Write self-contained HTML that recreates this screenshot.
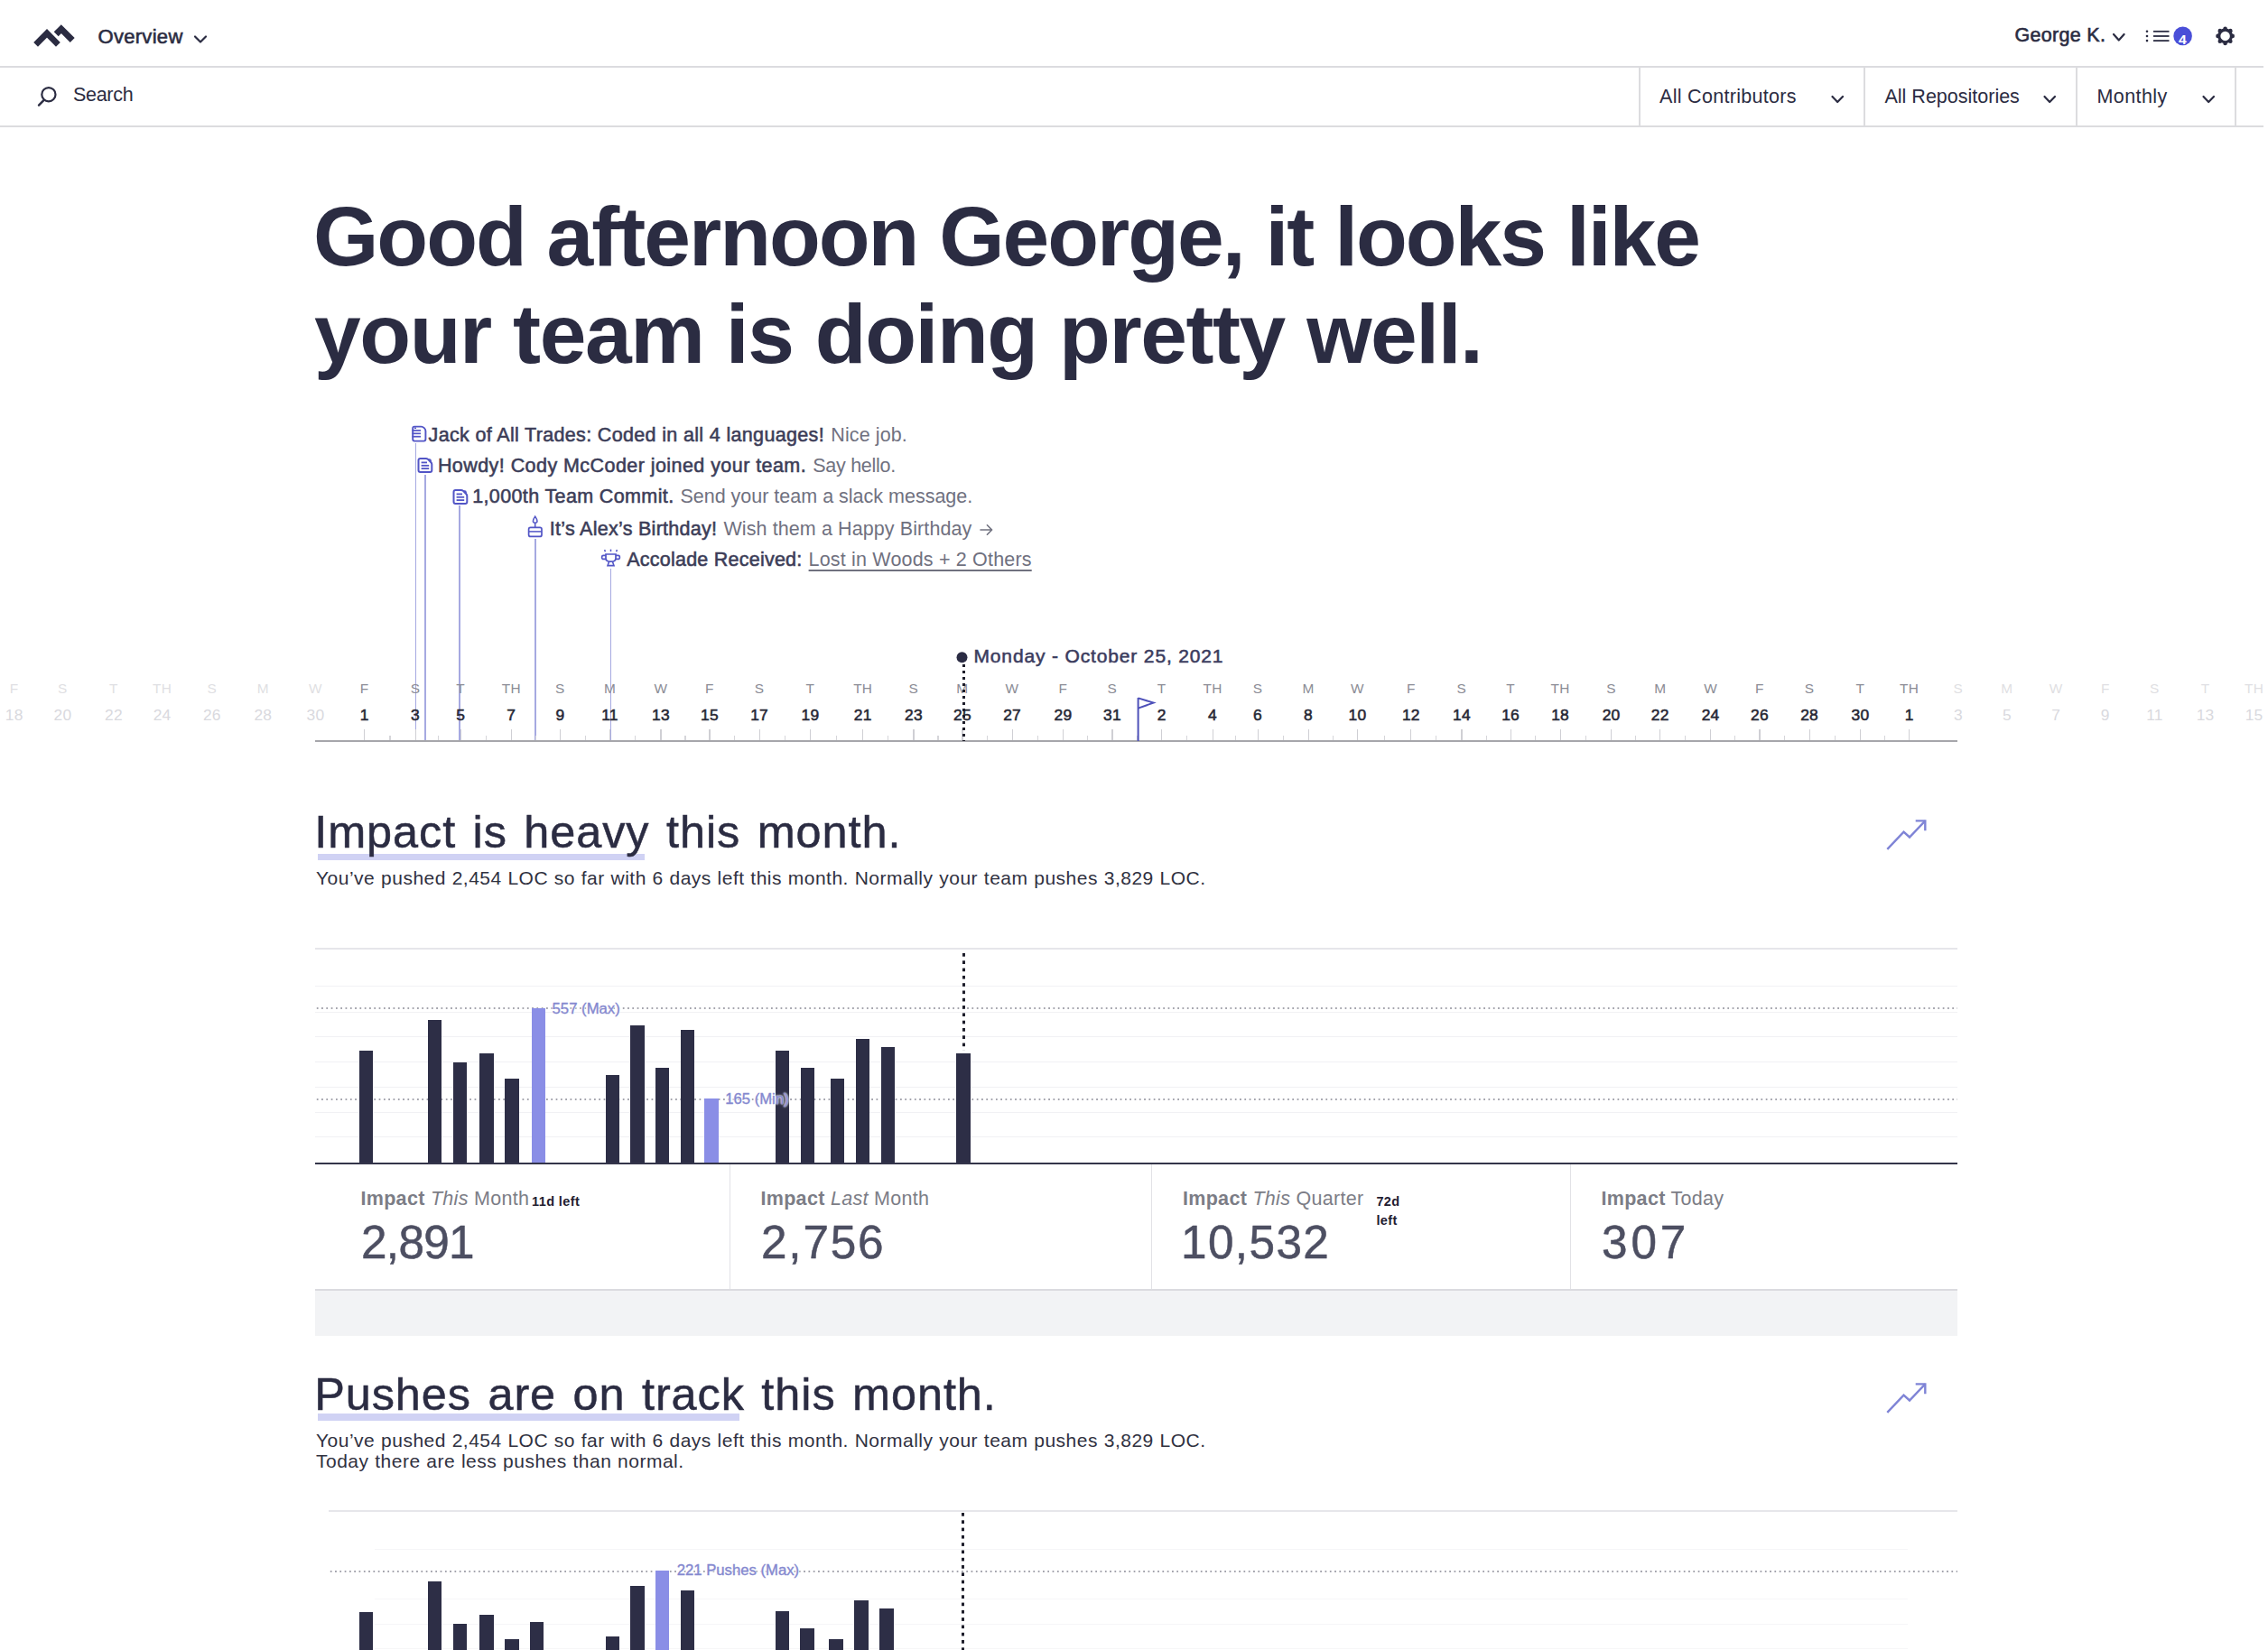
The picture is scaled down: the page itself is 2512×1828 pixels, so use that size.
<!DOCTYPE html><html><head><meta charset="utf-8"><style>
html,body{margin:0;padding:0;background:#fff;}
body{width:2512px;height:1828px;overflow:hidden;position:relative;font-family:"Liberation Sans", sans-serif;}
.t{position:absolute;white-space:pre;}
.r{position:absolute;display:block;}
</style></head><body>
<svg class="r" style="left:30px;top:18px;" width="60" height="40" viewBox="0 0 60 40"><path d="M9.6,31.3 L22,18.9 L34.4,31.3" fill="none" stroke="#2b2c42" stroke-width="6.8"/><path d="M32.2,19.7 L37.8,14.1 L50.2,26.5" fill="none" stroke="#2b2c42" stroke-width="7"/></svg>
<div class="t" style="left:108.5px;top:30.3px;font-size:22px;line-height:22px;color:#2b2c42;font-weight:400;letter-spacing:0.3px;-webkit-text-stroke:0.6px #2b2c42;">Overview</div>
<svg class="r" style="left:213px;top:37px;" width="19" height="13" viewBox="0 0 19 13"><polyline points="3.0,3.5 9.0,9.5 15.0,3.5" fill="none" stroke="#2b2c42" stroke-width="2.2" stroke-linecap="round" stroke-linejoin="round"/></svg>
<div class="r" style="left:0.0px;top:73.0px;width:2507.0px;height:2.0px;background:#dcdcdf;"></div>
<div class="t" style="left:2231.5px;top:28.9px;font-size:21.5px;line-height:21.5px;color:#2b2c42;font-weight:400;letter-spacing:0.3px;-webkit-text-stroke:0.6px #2b2c42;">George K.</div>
<svg class="r" style="left:2338px;top:35px;" width="18" height="13" viewBox="0 0 18 13"><polyline points="3.0,3.0 8.8,9.5 14.6,3.0" fill="none" stroke="#2b2c42" stroke-width="2.2" stroke-linecap="round" stroke-linejoin="round"/></svg>
<svg class="r" style="left:2372px;top:28px;" width="36" height="24" viewBox="0 0 36 24"><circle cx="6" cy="6.8" r="1.3" fill="#2b2c42"/><line x1="13" y1="6.8" x2="30.5" y2="6.8" stroke="#2b2c42" stroke-width="1.8"/><circle cx="6" cy="12" r="1.3" fill="#2b2c42"/><line x1="13" y1="12" x2="30.5" y2="12" stroke="#2b2c42" stroke-width="1.8"/><circle cx="6" cy="17.1" r="1.3" fill="#2b2c42"/><line x1="13" y1="17.1" x2="30.5" y2="17.1" stroke="#2b2c42" stroke-width="1.8"/></svg>
<svg class="r" style="left:2405px;top:27px;" width="26" height="26" viewBox="0 0 26 26"><circle cx="12.6" cy="12.9" r="10.3" fill="#4a4fd8"/><text x="12.4" y="21.6" text-anchor="middle" font-family="Liberation Sans" font-weight="700" font-size="14" fill="#fff" transform="translate(12.4,0) scale(1.12,1) translate(-12.4,0)">4</text></svg>
<svg class="r" style="left:2450px;top:25px;" width="30" height="30" viewBox="0 0 30 30"><g transform="translate(14.6,14.9)"><circle cx="0.00" cy="-8.10" r="2.3" fill="#2b2c42"/><circle cx="5.73" cy="-5.73" r="2.3" fill="#2b2c42"/><circle cx="8.10" cy="-0.00" r="2.3" fill="#2b2c42"/><circle cx="5.73" cy="5.73" r="2.3" fill="#2b2c42"/><circle cx="0.00" cy="8.10" r="2.3" fill="#2b2c42"/><circle cx="-5.73" cy="5.73" r="2.3" fill="#2b2c42"/><circle cx="-8.10" cy="0.00" r="2.3" fill="#2b2c42"/><circle cx="-5.73" cy="-5.73" r="2.3" fill="#2b2c42"/><circle r="6.8" fill="none" stroke="#2b2c42" stroke-width="3.1"/></g></svg>
<svg class="r" style="left:38px;top:90px;" width="28" height="30" viewBox="0 0 28 30"><circle cx="15.9" cy="14.7" r="7.6" fill="none" stroke="#2b2c42" stroke-width="2.2"/><line x1="5" y1="26.6" x2="10.4" y2="21.2" stroke="#2b2c42" stroke-width="2.4" stroke-linecap="round"/></svg>
<div class="t" style="left:81.0px;top:95.0px;font-size:21.5px;line-height:21.5px;color:#2b2c42;font-weight:400;letter-spacing:-0.3px;">Search</div>
<div class="r" style="left:0.0px;top:139.0px;width:2507.0px;height:2.0px;background:#dcdcdf;"></div>
<div class="r" style="left:1815.0px;top:75.0px;width:2.0px;height:64.0px;background:#dcdcdf;"></div>
<div class="r" style="left:2064.3px;top:75.0px;width:2.0px;height:64.0px;background:#dcdcdf;"></div>
<div class="r" style="left:2298.8px;top:75.0px;width:2.0px;height:64.0px;background:#dcdcdf;"></div>
<div class="r" style="left:2475.0px;top:75.0px;width:2.0px;height:64.0px;background:#dcdcdf;"></div>
<div class="t" style="left:1838.0px;top:96.9px;font-size:21.5px;line-height:21.5px;color:#2b2c42;font-weight:400;letter-spacing:0.3px;">All Contributors</div>
<svg class="r" style="left:2026px;top:104px;" width="18" height="13" viewBox="0 0 18 13"><polyline points="3.5,3.0 9.2,9.0 15.0,3.0" fill="none" stroke="#2b2c42" stroke-width="2.2" stroke-linecap="round" stroke-linejoin="round"/></svg>
<div class="t" style="left:2087.5px;top:96.9px;font-size:21.5px;line-height:21.5px;color:#2b2c42;font-weight:400;letter-spacing:0px;">All Repositories</div>
<svg class="r" style="left:2261px;top:104px;" width="18" height="13" viewBox="0 0 18 13"><polyline points="3.5,3.0 9.2,9.0 15.0,3.0" fill="none" stroke="#2b2c42" stroke-width="2.2" stroke-linecap="round" stroke-linejoin="round"/></svg>
<div class="t" style="left:2322.5px;top:96.9px;font-size:21.5px;line-height:21.5px;color:#2b2c42;font-weight:400;letter-spacing:0.4px;">Monthly</div>
<svg class="r" style="left:2437px;top:104px;" width="18" height="13" viewBox="0 0 18 13"><polyline points="3.5,3.0 9.2,9.0 15.0,3.0" fill="none" stroke="#2b2c42" stroke-width="2.2" stroke-linecap="round" stroke-linejoin="round"/></svg>
<div class="t" style="left:347.0px;top:216.4px;font-size:93px;line-height:93px;color:#2b2c42;font-weight:700;letter-spacing:-2.0px;">Good afternoon George, it looks like</div>
<div class="t" style="left:348.0px;top:323.9px;font-size:93px;line-height:93px;color:#2b2c42;font-weight:700;letter-spacing:-1.45px;">your team is doing pretty well.</div>
<div class="t" style="left:474.6px;top:471.5px;font-size:21.5px;line-height:21.5px;letter-spacing:0.34px;color:#3c3d58;font-weight:400;-webkit-text-stroke:0.55px #3c3d58">Jack of All Trades: Coded in all 4 languages!</div>
<div class="t" style="left:920.3px;top:471.5px;font-size:21.5px;line-height:21.5px;letter-spacing:0.1px;color:#70717f;">Nice job.</div>
<div class="t" style="left:484.9px;top:505.5px;font-size:21.5px;line-height:21.5px;letter-spacing:0.44px;color:#3c3d58;font-weight:400;-webkit-text-stroke:0.55px #3c3d58">Howdy! Cody McCoder joined your team.</div>
<div class="t" style="left:900.2px;top:505.5px;font-size:21.5px;line-height:21.5px;letter-spacing:-0.27px;color:#70717f;">Say hello.</div>
<div class="t" style="left:523.2px;top:540.1px;font-size:21.5px;line-height:21.5px;letter-spacing:0.37px;color:#3c3d58;font-weight:400;-webkit-text-stroke:0.55px #3c3d58">1,000th Team Commit.</div>
<div class="t" style="left:753.4px;top:540.1px;font-size:21.5px;line-height:21.5px;letter-spacing:0.0px;color:#70717f;">Send your team a slack message.</div>
<div class="t" style="left:608.8px;top:575.5px;font-size:21.5px;line-height:21.5px;letter-spacing:0.28px;color:#3c3d58;font-weight:400;-webkit-text-stroke:0.55px #3c3d58">It’s Alex’s Birthday!</div>
<div class="t" style="left:801.4px;top:575.5px;font-size:21.5px;line-height:21.5px;letter-spacing:0.1px;color:#70717f;">Wish them a Happy Birthday</div>
<div class="t" style="left:694.2px;top:610.3px;font-size:21.5px;line-height:21.5px;letter-spacing:0.24px;color:#3c3d58;font-weight:400;-webkit-text-stroke:0.55px #3c3d58">Accolade Received:</div>
<div class="t" style="left:895.6px;top:610.3px;font-size:21.5px;line-height:21.5px;letter-spacing:0.18px;color:#70717f;text-decoration:underline;text-decoration-thickness:1.6px;text-underline-offset:4px;">Lost in Woods + 2 Others</div>
<svg class="r" style="left:455px;top:471px;" width="19" height="20" viewBox="0 0 19 20"><path d="M2.2,3.4 Q2.2,1.6 4,1.6 L11.4,1.6 Q13.2,1.6 14.8,3.2 Q16.4,4.8 16.4,6.6 L16.4,15.6 Q16.4,17.6 14.4,17.6 L4,17.6 Q2.2,17.6 2.2,15.6 Z" fill="none" stroke="#5255c6" stroke-width="1.9"/><line x1="4" y1="3.2" x2="6" y2="3.2" stroke="#5255c6" stroke-width="1.4"/><line x1="1.4" y1="5.9" x2="11" y2="5.9" stroke="#5255c6" stroke-width="1.7"/><line x1="1.4" y1="9.3" x2="11" y2="9.3" stroke="#5255c6" stroke-width="1.7"/><line x1="1.4" y1="12.7" x2="11" y2="12.7" stroke="#5255c6" stroke-width="1.7"/></svg>
<svg class="r" style="left:462px;top:506px;" width="19" height="20" viewBox="0 0 19 20"><path d="M3.5,1.9 L9.8,1.9 Q11,1.9 12,2.9 L15.3,6.2 Q16.3,7.2 16.3,8.4 L16.3,15.1 Q16.3,17.1 14.3,17.1 L3.5,17.1 Q1.5,17.1 1.5,15.1 L1.5,3.9 Q1.5,1.9 3.5,1.9 Z" fill="none" stroke="#5255c6" stroke-width="2" stroke-linejoin="round"/><path d="M11,2.2 L15.8,7 L15.8,4.2 Q15.8,2.2 13.8,2.2 Z" fill="#5255c6"/><line x1="4.6" y1="6.4" x2="11" y2="6.4" stroke="#5255c6" stroke-width="1.8"/><line x1="4.6" y1="9.8" x2="13.2" y2="9.8" stroke="#5255c6" stroke-width="1.8"/><line x1="4.6" y1="13.1" x2="13.2" y2="13.1" stroke="#5255c6" stroke-width="1.8"/></svg>
<svg class="r" style="left:501px;top:541px;" width="19" height="20" viewBox="0 0 19 20"><path d="M3.5,1.9 L9.8,1.9 Q11,1.9 12,2.9 L15.3,6.2 Q16.3,7.2 16.3,8.4 L16.3,15.1 Q16.3,17.1 14.3,17.1 L3.5,17.1 Q1.5,17.1 1.5,15.1 L1.5,3.9 Q1.5,1.9 3.5,1.9 Z" fill="none" stroke="#5255c6" stroke-width="2" stroke-linejoin="round"/><path d="M11,2.2 L15.8,7 L15.8,4.2 Q15.8,2.2 13.8,2.2 Z" fill="#5255c6"/><line x1="4.6" y1="6.4" x2="11" y2="6.4" stroke="#5255c6" stroke-width="1.8"/><line x1="4.6" y1="9.8" x2="13.2" y2="9.8" stroke="#5255c6" stroke-width="1.8"/><line x1="4.6" y1="13.1" x2="13.2" y2="13.1" stroke="#5255c6" stroke-width="1.8"/></svg>
<svg class="r" style="left:582px;top:570px;" width="22" height="27" viewBox="0 0 22 27"><path d="M10.7,2.2 Q8.4,5.6 8.4,7.2 Q8.4,9.2 10.7,9.2 Q13,9.2 13,7.2 Q13,5.6 10.7,2.2 Z" fill="none" stroke="#5255c6" stroke-width="1.5"/><line x1="10.7" y1="9.2" x2="10.7" y2="14" stroke="#5255c6" stroke-width="1.6"/><rect x="3.6" y="14.4" width="14.4" height="10" rx="2" fill="none" stroke="#5255c6" stroke-width="1.7"/><line x1="3.6" y1="18.9" x2="18" y2="18.9" stroke="#5255c6" stroke-width="1.5"/></svg>
<svg class="r" style="left:664px;top:606px;" width="25" height="24" viewBox="0 0 25 24"><line x1="5.6" y1="3" x2="6.4" y2="5.2" stroke="#5255c6" stroke-width="1.5"/><line x1="12.5" y1="2.6" x2="12.5" y2="5" stroke="#5255c6" stroke-width="1.5"/><line x1="19.4" y1="3" x2="18.6" y2="5.2" stroke="#5255c6" stroke-width="1.5"/><path d="M7,8 L18,8 L18,12.5 Q18,16.2 12.5,16.2 Q7,16.2 7,12.5 Z" fill="none" stroke="#5255c6" stroke-width="1.7"/><path d="M7,9.4 L4.4,9.4 Q2.6,9.4 2.6,11.4 Q2.6,13.4 4.4,13.4 L7.2,13.4" fill="none" stroke="#5255c6" stroke-width="1.6"/><path d="M18,9.4 L20.6,9.4 Q22.4,9.4 22.4,11.4 Q22.4,13.4 20.6,13.4 L17.8,13.4" fill="none" stroke="#5255c6" stroke-width="1.6"/><path d="M10.6,16.2 L9,20.6 L16,20.6 L14.4,16.2" fill="none" stroke="#5255c6" stroke-width="1.6"/></svg>
<div class="r" style="left:459.9px;top:491.0px;width:1.6px;height:330.0px;background:#a6a9e1;"></div>
<div class="r" style="left:470.0px;top:525.5px;width:1.6px;height:295.5px;background:#a6a9e1;"></div>
<div class="r" style="left:508.3px;top:560.0px;width:1.6px;height:261.0px;background:#a6a9e1;"></div>
<div class="r" style="left:592.1px;top:596.5px;width:1.6px;height:224.5px;background:#a6a9e1;"></div>
<div class="r" style="left:675.7px;top:630.0px;width:1.6px;height:191.0px;background:#a6a9e1;"></div>
<div class="t" style="left:-84.3px;width:200px;text-align:center;top:754.8px;font-size:15.4px;line-height:15.4px;color:#dfdfe3;font-weight:400;letter-spacing:0.3px;">F</div>
<div class="t" style="left:-84.3px;width:200px;text-align:center;top:783.5px;font-size:17.4px;line-height:17.4px;color:#d9d9de;font-weight:400;letter-spacing:0.2px;">18</div>
<div class="t" style="left:-30.6px;width:200px;text-align:center;top:754.8px;font-size:15.4px;line-height:15.4px;color:#dfdfe3;font-weight:400;letter-spacing:0.3px;">S</div>
<div class="t" style="left:-30.6px;width:200px;text-align:center;top:783.5px;font-size:17.4px;line-height:17.4px;color:#d9d9de;font-weight:400;letter-spacing:0.2px;">20</div>
<div class="t" style="left:25.9px;width:200px;text-align:center;top:754.8px;font-size:15.4px;line-height:15.4px;color:#dfdfe3;font-weight:400;letter-spacing:0.3px;">T</div>
<div class="t" style="left:25.9px;width:200px;text-align:center;top:783.5px;font-size:17.4px;line-height:17.4px;color:#d9d9de;font-weight:400;letter-spacing:0.2px;">22</div>
<div class="t" style="left:79.6px;width:200px;text-align:center;top:754.8px;font-size:15.4px;line-height:15.4px;color:#dfdfe3;font-weight:400;letter-spacing:0.3px;">TH</div>
<div class="t" style="left:79.6px;width:200px;text-align:center;top:783.5px;font-size:17.4px;line-height:17.4px;color:#d9d9de;font-weight:400;letter-spacing:0.2px;">24</div>
<div class="t" style="left:134.8px;width:200px;text-align:center;top:754.8px;font-size:15.4px;line-height:15.4px;color:#dfdfe3;font-weight:400;letter-spacing:0.3px;">S</div>
<div class="t" style="left:134.8px;width:200px;text-align:center;top:783.5px;font-size:17.4px;line-height:17.4px;color:#d9d9de;font-weight:400;letter-spacing:0.2px;">26</div>
<div class="t" style="left:191.3px;width:200px;text-align:center;top:754.8px;font-size:15.4px;line-height:15.4px;color:#dfdfe3;font-weight:400;letter-spacing:0.3px;">M</div>
<div class="t" style="left:191.3px;width:200px;text-align:center;top:783.5px;font-size:17.4px;line-height:17.4px;color:#d9d9de;font-weight:400;letter-spacing:0.2px;">28</div>
<div class="t" style="left:249.4px;width:200px;text-align:center;top:754.8px;font-size:15.4px;line-height:15.4px;color:#dfdfe3;font-weight:400;letter-spacing:0.3px;">W</div>
<div class="t" style="left:249.4px;width:200px;text-align:center;top:783.5px;font-size:17.4px;line-height:17.4px;color:#d9d9de;font-weight:400;letter-spacing:0.2px;">30</div>
<div class="t" style="left:303.7px;width:200px;text-align:center;top:754.8px;font-size:15.4px;line-height:15.4px;color:#8b8c95;font-weight:400;letter-spacing:0.3px;">F</div>
<div class="t" style="left:303.7px;width:200px;text-align:center;top:783.5px;font-size:17.4px;line-height:17.4px;color:#272835;font-weight:400;letter-spacing:0.2px;-webkit-text-stroke:0.55px #272835;">1</div>
<div class="t" style="left:360.0px;width:200px;text-align:center;top:754.8px;font-size:15.4px;line-height:15.4px;color:#8b8c95;font-weight:400;letter-spacing:0.3px;">S</div>
<div class="t" style="left:360.0px;width:200px;text-align:center;top:783.5px;font-size:17.4px;line-height:17.4px;color:#272835;font-weight:400;letter-spacing:0.2px;-webkit-text-stroke:0.55px #272835;">3</div>
<div class="t" style="left:410.2px;width:200px;text-align:center;top:754.8px;font-size:15.4px;line-height:15.4px;color:#8b8c95;font-weight:400;letter-spacing:0.3px;">T</div>
<div class="t" style="left:410.2px;width:200px;text-align:center;top:783.5px;font-size:17.4px;line-height:17.4px;color:#272835;font-weight:400;letter-spacing:0.2px;-webkit-text-stroke:0.55px #272835;">5</div>
<div class="t" style="left:466.3px;width:200px;text-align:center;top:754.8px;font-size:15.4px;line-height:15.4px;color:#8b8c95;font-weight:400;letter-spacing:0.3px;">TH</div>
<div class="t" style="left:466.3px;width:200px;text-align:center;top:783.5px;font-size:17.4px;line-height:17.4px;color:#272835;font-weight:400;letter-spacing:0.2px;-webkit-text-stroke:0.55px #272835;">7</div>
<div class="t" style="left:520.4px;width:200px;text-align:center;top:754.8px;font-size:15.4px;line-height:15.4px;color:#8b8c95;font-weight:400;letter-spacing:0.3px;">S</div>
<div class="t" style="left:520.4px;width:200px;text-align:center;top:783.5px;font-size:17.4px;line-height:17.4px;color:#272835;font-weight:400;letter-spacing:0.2px;-webkit-text-stroke:0.55px #272835;">9</div>
<div class="t" style="left:575.5px;width:200px;text-align:center;top:754.8px;font-size:15.4px;line-height:15.4px;color:#8b8c95;font-weight:400;letter-spacing:0.3px;">M</div>
<div class="t" style="left:575.5px;width:200px;text-align:center;top:783.5px;font-size:17.4px;line-height:17.4px;color:#272835;font-weight:400;letter-spacing:0.2px;-webkit-text-stroke:0.55px #272835;">11</div>
<div class="t" style="left:631.9px;width:200px;text-align:center;top:754.8px;font-size:15.4px;line-height:15.4px;color:#8b8c95;font-weight:400;letter-spacing:0.3px;">W</div>
<div class="t" style="left:631.9px;width:200px;text-align:center;top:783.5px;font-size:17.4px;line-height:17.4px;color:#272835;font-weight:400;letter-spacing:0.2px;-webkit-text-stroke:0.55px #272835;">13</div>
<div class="t" style="left:685.9px;width:200px;text-align:center;top:754.8px;font-size:15.4px;line-height:15.4px;color:#8b8c95;font-weight:400;letter-spacing:0.3px;">F</div>
<div class="t" style="left:685.9px;width:200px;text-align:center;top:783.5px;font-size:17.4px;line-height:17.4px;color:#272835;font-weight:400;letter-spacing:0.2px;-webkit-text-stroke:0.55px #272835;">15</div>
<div class="t" style="left:741.1px;width:200px;text-align:center;top:754.8px;font-size:15.4px;line-height:15.4px;color:#8b8c95;font-weight:400;letter-spacing:0.3px;">S</div>
<div class="t" style="left:741.1px;width:200px;text-align:center;top:783.5px;font-size:17.4px;line-height:17.4px;color:#272835;font-weight:400;letter-spacing:0.2px;-webkit-text-stroke:0.55px #272835;">17</div>
<div class="t" style="left:797.4px;width:200px;text-align:center;top:754.8px;font-size:15.4px;line-height:15.4px;color:#8b8c95;font-weight:400;letter-spacing:0.3px;">T</div>
<div class="t" style="left:797.4px;width:200px;text-align:center;top:783.5px;font-size:17.4px;line-height:17.4px;color:#272835;font-weight:400;letter-spacing:0.2px;-webkit-text-stroke:0.55px #272835;">19</div>
<div class="t" style="left:855.7px;width:200px;text-align:center;top:754.8px;font-size:15.4px;line-height:15.4px;color:#8b8c95;font-weight:400;letter-spacing:0.3px;">TH</div>
<div class="t" style="left:855.7px;width:200px;text-align:center;top:783.5px;font-size:17.4px;line-height:17.4px;color:#272835;font-weight:400;letter-spacing:0.2px;-webkit-text-stroke:0.55px #272835;">21</div>
<div class="t" style="left:911.9px;width:200px;text-align:center;top:754.8px;font-size:15.4px;line-height:15.4px;color:#8b8c95;font-weight:400;letter-spacing:0.3px;">S</div>
<div class="t" style="left:911.9px;width:200px;text-align:center;top:783.5px;font-size:17.4px;line-height:17.4px;color:#272835;font-weight:400;letter-spacing:0.2px;-webkit-text-stroke:0.55px #272835;">23</div>
<div class="t" style="left:965.9px;width:200px;text-align:center;top:754.8px;font-size:15.4px;line-height:15.4px;color:#8b8c95;font-weight:400;letter-spacing:0.3px;">M</div>
<div class="t" style="left:965.9px;width:200px;text-align:center;top:783.5px;font-size:17.4px;line-height:17.4px;color:#272835;font-weight:400;letter-spacing:0.2px;-webkit-text-stroke:0.55px #272835;">25</div>
<div class="t" style="left:1021.0px;width:200px;text-align:center;top:754.8px;font-size:15.4px;line-height:15.4px;color:#8b8c95;font-weight:400;letter-spacing:0.3px;">W</div>
<div class="t" style="left:1021.0px;width:200px;text-align:center;top:783.5px;font-size:17.4px;line-height:17.4px;color:#272835;font-weight:400;letter-spacing:0.2px;-webkit-text-stroke:0.55px #272835;">27</div>
<div class="t" style="left:1077.4px;width:200px;text-align:center;top:754.8px;font-size:15.4px;line-height:15.4px;color:#8b8c95;font-weight:400;letter-spacing:0.3px;">F</div>
<div class="t" style="left:1077.4px;width:200px;text-align:center;top:783.5px;font-size:17.4px;line-height:17.4px;color:#272835;font-weight:400;letter-spacing:0.2px;-webkit-text-stroke:0.55px #272835;">29</div>
<div class="t" style="left:1131.9px;width:200px;text-align:center;top:754.8px;font-size:15.4px;line-height:15.4px;color:#8b8c95;font-weight:400;letter-spacing:0.3px;">S</div>
<div class="t" style="left:1131.9px;width:200px;text-align:center;top:783.5px;font-size:17.4px;line-height:17.4px;color:#272835;font-weight:400;letter-spacing:0.2px;-webkit-text-stroke:0.55px #272835;">31</div>
<div class="t" style="left:1186.7px;width:200px;text-align:center;top:754.8px;font-size:15.4px;line-height:15.4px;color:#8b8c95;font-weight:400;letter-spacing:0.3px;">T</div>
<div class="t" style="left:1186.7px;width:200px;text-align:center;top:783.5px;font-size:17.4px;line-height:17.4px;color:#272835;font-weight:400;letter-spacing:0.2px;-webkit-text-stroke:0.55px #272835;">2</div>
<div class="t" style="left:1243.0px;width:200px;text-align:center;top:754.8px;font-size:15.4px;line-height:15.4px;color:#8b8c95;font-weight:400;letter-spacing:0.3px;">TH</div>
<div class="t" style="left:1243.0px;width:200px;text-align:center;top:783.5px;font-size:17.4px;line-height:17.4px;color:#272835;font-weight:400;letter-spacing:0.2px;-webkit-text-stroke:0.55px #272835;">4</div>
<div class="t" style="left:1293.0px;width:200px;text-align:center;top:754.8px;font-size:15.4px;line-height:15.4px;color:#8b8c95;font-weight:400;letter-spacing:0.3px;">S</div>
<div class="t" style="left:1293.0px;width:200px;text-align:center;top:783.5px;font-size:17.4px;line-height:17.4px;color:#272835;font-weight:400;letter-spacing:0.2px;-webkit-text-stroke:0.55px #272835;">6</div>
<div class="t" style="left:1349.0px;width:200px;text-align:center;top:754.8px;font-size:15.4px;line-height:15.4px;color:#8b8c95;font-weight:400;letter-spacing:0.3px;">M</div>
<div class="t" style="left:1349.0px;width:200px;text-align:center;top:783.5px;font-size:17.4px;line-height:17.4px;color:#272835;font-weight:400;letter-spacing:0.2px;-webkit-text-stroke:0.55px #272835;">8</div>
<div class="t" style="left:1403.4px;width:200px;text-align:center;top:754.8px;font-size:15.4px;line-height:15.4px;color:#8b8c95;font-weight:400;letter-spacing:0.3px;">W</div>
<div class="t" style="left:1403.4px;width:200px;text-align:center;top:783.5px;font-size:17.4px;line-height:17.4px;color:#272835;font-weight:400;letter-spacing:0.2px;-webkit-text-stroke:0.55px #272835;">10</div>
<div class="t" style="left:1462.8px;width:200px;text-align:center;top:754.8px;font-size:15.4px;line-height:15.4px;color:#8b8c95;font-weight:400;letter-spacing:0.3px;">F</div>
<div class="t" style="left:1462.8px;width:200px;text-align:center;top:783.5px;font-size:17.4px;line-height:17.4px;color:#272835;font-weight:400;letter-spacing:0.2px;-webkit-text-stroke:0.55px #272835;">12</div>
<div class="t" style="left:1518.9px;width:200px;text-align:center;top:754.8px;font-size:15.4px;line-height:15.4px;color:#8b8c95;font-weight:400;letter-spacing:0.3px;">S</div>
<div class="t" style="left:1518.9px;width:200px;text-align:center;top:783.5px;font-size:17.4px;line-height:17.4px;color:#272835;font-weight:400;letter-spacing:0.2px;-webkit-text-stroke:0.55px #272835;">14</div>
<div class="t" style="left:1573.0px;width:200px;text-align:center;top:754.8px;font-size:15.4px;line-height:15.4px;color:#8b8c95;font-weight:400;letter-spacing:0.3px;">T</div>
<div class="t" style="left:1573.0px;width:200px;text-align:center;top:783.5px;font-size:17.4px;line-height:17.4px;color:#272835;font-weight:400;letter-spacing:0.2px;-webkit-text-stroke:0.55px #272835;">16</div>
<div class="t" style="left:1628.1px;width:200px;text-align:center;top:754.8px;font-size:15.4px;line-height:15.4px;color:#8b8c95;font-weight:400;letter-spacing:0.3px;">TH</div>
<div class="t" style="left:1628.1px;width:200px;text-align:center;top:783.5px;font-size:17.4px;line-height:17.4px;color:#272835;font-weight:400;letter-spacing:0.2px;-webkit-text-stroke:0.55px #272835;">18</div>
<div class="t" style="left:1684.6px;width:200px;text-align:center;top:754.8px;font-size:15.4px;line-height:15.4px;color:#8b8c95;font-weight:400;letter-spacing:0.3px;">S</div>
<div class="t" style="left:1684.6px;width:200px;text-align:center;top:783.5px;font-size:17.4px;line-height:17.4px;color:#272835;font-weight:400;letter-spacing:0.2px;-webkit-text-stroke:0.55px #272835;">20</div>
<div class="t" style="left:1738.7px;width:200px;text-align:center;top:754.8px;font-size:15.4px;line-height:15.4px;color:#8b8c95;font-weight:400;letter-spacing:0.3px;">M</div>
<div class="t" style="left:1738.7px;width:200px;text-align:center;top:783.5px;font-size:17.4px;line-height:17.4px;color:#272835;font-weight:400;letter-spacing:0.2px;-webkit-text-stroke:0.55px #272835;">22</div>
<div class="t" style="left:1794.6px;width:200px;text-align:center;top:754.8px;font-size:15.4px;line-height:15.4px;color:#8b8c95;font-weight:400;letter-spacing:0.3px;">W</div>
<div class="t" style="left:1794.6px;width:200px;text-align:center;top:783.5px;font-size:17.4px;line-height:17.4px;color:#272835;font-weight:400;letter-spacing:0.2px;-webkit-text-stroke:0.55px #272835;">24</div>
<div class="t" style="left:1848.9px;width:200px;text-align:center;top:754.8px;font-size:15.4px;line-height:15.4px;color:#8b8c95;font-weight:400;letter-spacing:0.3px;">F</div>
<div class="t" style="left:1848.9px;width:200px;text-align:center;top:783.5px;font-size:17.4px;line-height:17.4px;color:#272835;font-weight:400;letter-spacing:0.2px;-webkit-text-stroke:0.55px #272835;">26</div>
<div class="t" style="left:1904.0px;width:200px;text-align:center;top:754.8px;font-size:15.4px;line-height:15.4px;color:#8b8c95;font-weight:400;letter-spacing:0.3px;">S</div>
<div class="t" style="left:1904.0px;width:200px;text-align:center;top:783.5px;font-size:17.4px;line-height:17.4px;color:#272835;font-weight:400;letter-spacing:0.2px;-webkit-text-stroke:0.55px #272835;">28</div>
<div class="t" style="left:1960.4px;width:200px;text-align:center;top:754.8px;font-size:15.4px;line-height:15.4px;color:#8b8c95;font-weight:400;letter-spacing:0.3px;">T</div>
<div class="t" style="left:1960.4px;width:200px;text-align:center;top:783.5px;font-size:17.4px;line-height:17.4px;color:#272835;font-weight:400;letter-spacing:0.2px;-webkit-text-stroke:0.55px #272835;">30</div>
<div class="t" style="left:2014.6px;width:200px;text-align:center;top:754.8px;font-size:15.4px;line-height:15.4px;color:#8b8c95;font-weight:400;letter-spacing:0.3px;">TH</div>
<div class="t" style="left:2014.6px;width:200px;text-align:center;top:783.5px;font-size:17.4px;line-height:17.4px;color:#272835;font-weight:400;letter-spacing:0.2px;-webkit-text-stroke:0.55px #272835;">1</div>
<div class="t" style="left:2068.9px;width:200px;text-align:center;top:754.8px;font-size:15.4px;line-height:15.4px;color:#dfdfe3;font-weight:400;letter-spacing:0.3px;">S</div>
<div class="t" style="left:2068.9px;width:200px;text-align:center;top:783.5px;font-size:17.4px;line-height:17.4px;color:#d9d9de;font-weight:400;letter-spacing:0.2px;">3</div>
<div class="t" style="left:2122.9px;width:200px;text-align:center;top:754.8px;font-size:15.4px;line-height:15.4px;color:#dfdfe3;font-weight:400;letter-spacing:0.3px;">M</div>
<div class="t" style="left:2122.9px;width:200px;text-align:center;top:783.5px;font-size:17.4px;line-height:17.4px;color:#d9d9de;font-weight:400;letter-spacing:0.2px;">5</div>
<div class="t" style="left:2177.2px;width:200px;text-align:center;top:754.8px;font-size:15.4px;line-height:15.4px;color:#dfdfe3;font-weight:400;letter-spacing:0.3px;">W</div>
<div class="t" style="left:2177.2px;width:200px;text-align:center;top:783.5px;font-size:17.4px;line-height:17.4px;color:#d9d9de;font-weight:400;letter-spacing:0.2px;">7</div>
<div class="t" style="left:2231.8px;width:200px;text-align:center;top:754.8px;font-size:15.4px;line-height:15.4px;color:#dfdfe3;font-weight:400;letter-spacing:0.3px;">F</div>
<div class="t" style="left:2231.8px;width:200px;text-align:center;top:783.5px;font-size:17.4px;line-height:17.4px;color:#d9d9de;font-weight:400;letter-spacing:0.2px;">9</div>
<div class="t" style="left:2286.4px;width:200px;text-align:center;top:754.8px;font-size:15.4px;line-height:15.4px;color:#dfdfe3;font-weight:400;letter-spacing:0.3px;">S</div>
<div class="t" style="left:2286.4px;width:200px;text-align:center;top:783.5px;font-size:17.4px;line-height:17.4px;color:#d9d9de;font-weight:400;letter-spacing:0.2px;">11</div>
<div class="t" style="left:2342.6px;width:200px;text-align:center;top:754.8px;font-size:15.4px;line-height:15.4px;color:#dfdfe3;font-weight:400;letter-spacing:0.3px;">T</div>
<div class="t" style="left:2342.6px;width:200px;text-align:center;top:783.5px;font-size:17.4px;line-height:17.4px;color:#d9d9de;font-weight:400;letter-spacing:0.2px;">13</div>
<div class="t" style="left:2396.6px;width:200px;text-align:center;top:754.8px;font-size:15.4px;line-height:15.4px;color:#dfdfe3;font-weight:400;letter-spacing:0.3px;">TH</div>
<div class="t" style="left:2396.6px;width:200px;text-align:center;top:783.5px;font-size:17.4px;line-height:17.4px;color:#d9d9de;font-weight:400;letter-spacing:0.2px;">15</div>
<div class="r" style="left:349.0px;top:820.0px;width:1819.0px;height:2.0px;background:#a6a6ab;"></div>
<div class="r" style="left:403.2px;top:808.0px;width:1.2px;height:12.0px;background:#cfcfd4;"></div>
<div class="r" style="left:459.5px;top:808.0px;width:1.2px;height:12.0px;background:#cfcfd4;"></div>
<div class="r" style="left:509.7px;top:808.0px;width:1.2px;height:12.0px;background:#cfcfd4;"></div>
<div class="r" style="left:565.8px;top:808.0px;width:1.2px;height:12.0px;background:#cfcfd4;"></div>
<div class="r" style="left:619.9px;top:808.0px;width:1.2px;height:12.0px;background:#cfcfd4;"></div>
<div class="r" style="left:675.0px;top:808.0px;width:1.2px;height:12.0px;background:#cfcfd4;"></div>
<div class="r" style="left:731.4px;top:808.0px;width:1.2px;height:12.0px;background:#cfcfd4;"></div>
<div class="r" style="left:785.4px;top:808.0px;width:1.2px;height:12.0px;background:#cfcfd4;"></div>
<div class="r" style="left:840.6px;top:808.0px;width:1.2px;height:12.0px;background:#cfcfd4;"></div>
<div class="r" style="left:896.9px;top:808.0px;width:1.2px;height:12.0px;background:#cfcfd4;"></div>
<div class="r" style="left:955.2px;top:808.0px;width:1.2px;height:12.0px;background:#cfcfd4;"></div>
<div class="r" style="left:1011.4px;top:808.0px;width:1.2px;height:12.0px;background:#cfcfd4;"></div>
<div class="r" style="left:1065.4px;top:808.0px;width:1.2px;height:12.0px;background:#cfcfd4;"></div>
<div class="r" style="left:1120.5px;top:808.0px;width:1.2px;height:12.0px;background:#cfcfd4;"></div>
<div class="r" style="left:1176.9px;top:808.0px;width:1.2px;height:12.0px;background:#cfcfd4;"></div>
<div class="r" style="left:1231.4px;top:808.0px;width:1.2px;height:12.0px;background:#cfcfd4;"></div>
<div class="r" style="left:1286.2px;top:808.0px;width:1.2px;height:12.0px;background:#cfcfd4;"></div>
<div class="r" style="left:1342.5px;top:808.0px;width:1.2px;height:12.0px;background:#cfcfd4;"></div>
<div class="r" style="left:1392.5px;top:808.0px;width:1.2px;height:12.0px;background:#cfcfd4;"></div>
<div class="r" style="left:1448.5px;top:808.0px;width:1.2px;height:12.0px;background:#cfcfd4;"></div>
<div class="r" style="left:1502.9px;top:808.0px;width:1.2px;height:12.0px;background:#cfcfd4;"></div>
<div class="r" style="left:1562.3px;top:808.0px;width:1.2px;height:12.0px;background:#cfcfd4;"></div>
<div class="r" style="left:1618.4px;top:808.0px;width:1.2px;height:12.0px;background:#cfcfd4;"></div>
<div class="r" style="left:1672.5px;top:808.0px;width:1.2px;height:12.0px;background:#cfcfd4;"></div>
<div class="r" style="left:1727.6px;top:808.0px;width:1.2px;height:12.0px;background:#cfcfd4;"></div>
<div class="r" style="left:1784.1px;top:808.0px;width:1.2px;height:12.0px;background:#cfcfd4;"></div>
<div class="r" style="left:1838.2px;top:808.0px;width:1.2px;height:12.0px;background:#cfcfd4;"></div>
<div class="r" style="left:1894.1px;top:808.0px;width:1.2px;height:12.0px;background:#cfcfd4;"></div>
<div class="r" style="left:1948.4px;top:808.0px;width:1.2px;height:12.0px;background:#cfcfd4;"></div>
<div class="r" style="left:2003.5px;top:808.0px;width:1.2px;height:12.0px;background:#cfcfd4;"></div>
<div class="r" style="left:2059.9px;top:808.0px;width:1.2px;height:12.0px;background:#cfcfd4;"></div>
<div class="r" style="left:2114.1px;top:808.0px;width:1.2px;height:12.0px;background:#cfcfd4;"></div>
<div class="r" style="left:431.4px;top:815.0px;width:1.2px;height:5.0px;background:#d6d6da;"></div>
<div class="r" style="left:484.6px;top:815.0px;width:1.2px;height:5.0px;background:#d6d6da;"></div>
<div class="r" style="left:537.8px;top:815.0px;width:1.2px;height:5.0px;background:#d6d6da;"></div>
<div class="r" style="left:592.8px;top:815.0px;width:1.2px;height:5.0px;background:#d6d6da;"></div>
<div class="r" style="left:647.5px;top:815.0px;width:1.2px;height:5.0px;background:#d6d6da;"></div>
<div class="r" style="left:703.2px;top:815.0px;width:1.2px;height:5.0px;background:#d6d6da;"></div>
<div class="r" style="left:758.4px;top:815.0px;width:1.2px;height:5.0px;background:#d6d6da;"></div>
<div class="r" style="left:813.0px;top:815.0px;width:1.2px;height:5.0px;background:#d6d6da;"></div>
<div class="r" style="left:868.8px;top:815.0px;width:1.2px;height:5.0px;background:#d6d6da;"></div>
<div class="r" style="left:926.0px;top:815.0px;width:1.2px;height:5.0px;background:#d6d6da;"></div>
<div class="r" style="left:983.3px;top:815.0px;width:1.2px;height:5.0px;background:#d6d6da;"></div>
<div class="r" style="left:1038.4px;top:815.0px;width:1.2px;height:5.0px;background:#d6d6da;"></div>
<div class="r" style="left:1093.0px;top:815.0px;width:1.2px;height:5.0px;background:#d6d6da;"></div>
<div class="r" style="left:1148.7px;top:815.0px;width:1.2px;height:5.0px;background:#d6d6da;"></div>
<div class="r" style="left:1204.2px;top:815.0px;width:1.2px;height:5.0px;background:#d6d6da;"></div>
<div class="r" style="left:1258.8px;top:815.0px;width:1.2px;height:5.0px;background:#d6d6da;"></div>
<div class="r" style="left:1314.3px;top:815.0px;width:1.2px;height:5.0px;background:#d6d6da;"></div>
<div class="r" style="left:1367.5px;top:815.0px;width:1.2px;height:5.0px;background:#d6d6da;"></div>
<div class="r" style="left:1420.5px;top:815.0px;width:1.2px;height:5.0px;background:#d6d6da;"></div>
<div class="r" style="left:1475.7px;top:815.0px;width:1.2px;height:5.0px;background:#d6d6da;"></div>
<div class="r" style="left:1532.6px;top:815.0px;width:1.2px;height:5.0px;background:#d6d6da;"></div>
<div class="r" style="left:1590.3px;top:815.0px;width:1.2px;height:5.0px;background:#d6d6da;"></div>
<div class="r" style="left:1645.5px;top:815.0px;width:1.2px;height:5.0px;background:#d6d6da;"></div>
<div class="r" style="left:1700.0px;top:815.0px;width:1.2px;height:5.0px;background:#d6d6da;"></div>
<div class="r" style="left:1755.8px;top:815.0px;width:1.2px;height:5.0px;background:#d6d6da;"></div>
<div class="r" style="left:1811.2px;top:815.0px;width:1.2px;height:5.0px;background:#d6d6da;"></div>
<div class="r" style="left:1866.2px;top:815.0px;width:1.2px;height:5.0px;background:#d6d6da;"></div>
<div class="r" style="left:1921.2px;top:815.0px;width:1.2px;height:5.0px;background:#d6d6da;"></div>
<div class="r" style="left:1976.0px;top:815.0px;width:1.2px;height:5.0px;background:#d6d6da;"></div>
<div class="r" style="left:2031.7px;top:815.0px;width:1.2px;height:5.0px;background:#d6d6da;"></div>
<div class="r" style="left:2087.0px;top:815.0px;width:1.2px;height:5.0px;background:#d6d6da;"></div>
<svg class="r" style="left:1256px;top:770px;" width="28" height="53" viewBox="0 0 28 53"><line x1="4.6" y1="3" x2="4.6" y2="51" stroke="#4d50b9" stroke-width="2"/><path d="M4.6,3.4 L21.6,8.6 L4.6,14.6" fill="none" stroke="#4d50b9" stroke-width="2" stroke-linejoin="miter"/></svg>
<svg class="r" style="left:1056px;top:719px;" width="20" height="20" viewBox="0 0 20 20"><circle cx="9.5" cy="9.3" r="6" fill="#2b2c44"/></svg>
<div class="r" style="left:1066.2px;top:735.5px;width:2.6px;height:85.5px;background-image:linear-gradient(#1d1d2a 38%, transparent 38%);background-size:2.6px 7px;background-repeat:repeat-y"></div>
<div class="t" style="left:1078.5px;top:715.9px;font-size:21px;line-height:21px;color:#3b3c5e;font-weight:400;letter-spacing:0.85px;-webkit-text-stroke:0.55px #3b3c5e;">Monday - October 25, 2021</div>
<svg class="r" style="left:1083.5px;top:578.5px;" width="18" height="16" viewBox="0 0 18 16"><path d="M2,8 L14.6,8 M9.4,2.8 L14.6,8 L9.4,13.2" fill="none" stroke="#70717f" stroke-width="1.6" stroke-linecap="round" stroke-linejoin="round"/></svg>
<div class="r" style="left:352.0px;top:945.6px;width:362.0px;height:7.8px;background:#d0d2f4;"></div>
<div class="t" style="left:348.2px;top:896.7px;font-size:50.4px;line-height:50.4px;color:#2b2c42;letter-spacing:0.95px;word-spacing:3.5px;-webkit-text-stroke:0.5px #2b2c42">Impact is heavy this month.</div>
<div class="t" style="left:350.0px;top:961.9px;font-size:21px;line-height:21px;color:#30313f;font-weight:400;letter-spacing:0.5px;word-spacing:0.4px;">You’ve pushed 2,454 LOC so far with 6 days left this month. Normally your team pushes 3,829 LOC.</div>
<svg class="r" style="left:2086px;top:905px;" width="50" height="40" viewBox="0 0 50 40"><polyline points="4.3,35.8 22.5,16.6 29,22.5 46.3,4.4" fill="none" stroke="#7f84d6" stroke-width="2.4" stroke-linejoin="miter"/><polyline points="35.7,4.4 46.3,4.4 46.3,15.3" fill="none" stroke="#7f84d6" stroke-width="2.4"/></svg>
<div class="r" style="left:349.0px;top:1050.0px;width:1819.0px;height:2.0px;background:#e6e6ea;"></div>
<div class="r" style="left:349.0px;top:1092.1px;width:1819.0px;height:1.2px;background:#f1f1f4;"></div>
<div class="r" style="left:349.0px;top:1120.5px;width:1819.0px;height:1.2px;background:#f1f1f4;"></div>
<div class="r" style="left:349.0px;top:1147.5px;width:1819.0px;height:1.2px;background:#f1f1f4;"></div>
<div class="r" style="left:349.0px;top:1175.8px;width:1819.0px;height:1.2px;background:#f1f1f4;"></div>
<div class="r" style="left:349.0px;top:1203.5px;width:1819.0px;height:1.2px;background:#f1f1f4;"></div>
<div class="r" style="left:349.0px;top:1231.5px;width:1819.0px;height:1.2px;background:#f1f1f4;"></div>
<div class="r" style="left:349.0px;top:1259.1px;width:1819.0px;height:1.2px;background:#f1f1f4;"></div>
<div class="r" style="left:349px;top:1116px;width:1819px;height:2px;background-image:radial-gradient(circle, #a4a4ad 0.9px, transparent 1.1px);background-size:5.3px 2px;background-repeat:repeat-x"></div>
<div class="r" style="left:349px;top:1217px;width:1819px;height:2px;background-image:radial-gradient(circle, #a4a4ad 0.9px, transparent 1.1px);background-size:5.3px 2px;background-repeat:repeat-x"></div>
<div class="r" style="left:397.8px;top:1163.5px;width:15.4px;height:125.5px;background:#2d2e46;"></div>
<div class="r" style="left:473.7px;top:1130.3px;width:15.4px;height:158.7px;background:#2d2e46;"></div>
<div class="r" style="left:501.7px;top:1177.2px;width:15.4px;height:111.8px;background:#2d2e46;"></div>
<div class="r" style="left:531.4px;top:1167.0px;width:15.4px;height:122.0px;background:#2d2e46;"></div>
<div class="r" style="left:559.4px;top:1194.9px;width:15.4px;height:94.1px;background:#2d2e46;"></div>
<div class="r" style="left:588.7px;top:1116.7px;width:15.4px;height:172.3px;background:#8a8ee6;"></div>
<div class="r" style="left:670.7px;top:1191.3px;width:15.4px;height:97.7px;background:#2d2e46;"></div>
<div class="r" style="left:698.4px;top:1135.6px;width:15.4px;height:153.4px;background:#2d2e46;"></div>
<div class="r" style="left:726.1px;top:1182.5px;width:15.4px;height:106.5px;background:#2d2e46;"></div>
<div class="r" style="left:754.1px;top:1140.9px;width:15.4px;height:148.1px;background:#2d2e46;"></div>
<div class="r" style="left:780.2px;top:1217.2px;width:15.4px;height:71.8px;background:#8a8ee6;"></div>
<div class="r" style="left:858.7px;top:1163.5px;width:15.4px;height:125.5px;background:#2d2e46;"></div>
<div class="r" style="left:886.6px;top:1182.5px;width:15.4px;height:106.5px;background:#2d2e46;"></div>
<div class="r" style="left:920.1px;top:1194.9px;width:15.4px;height:94.1px;background:#2d2e46;"></div>
<div class="r" style="left:948.0px;top:1151.1px;width:15.4px;height:137.9px;background:#2d2e46;"></div>
<div class="r" style="left:976.0px;top:1159.9px;width:15.4px;height:129.1px;background:#2d2e46;"></div>
<div class="r" style="left:1059.3px;top:1167.0px;width:15.4px;height:122.0px;background:#2d2e46;"></div>
<div class="r" style="left:349.0px;top:1288.2px;width:1819.0px;height:2.3px;background:#34354a;"></div>
<div class="r" style="left:1066.2px;top:1055.5px;width:3px;height:108.0px;background-image:linear-gradient(#1d1d2a 50%, transparent 50%);background-size:3px 8.3px;background-repeat:repeat-y"></div>
<div class="t" style="left:611.6px;top:1110.2px;font-size:16.7px;line-height:16.7px;color:#8488cf;-webkit-text-stroke:0.35px #8488cf;text-shadow:0 0 2px #fff,0 0 2px #fff,0 0 3px #fff">557 (Max)</div>
<div class="t" style="left:803.2px;top:1210.2px;font-size:16.7px;line-height:16.7px;color:#8488cf;-webkit-text-stroke:0.35px #8488cf;text-shadow:0 0 2px #fff,0 0 2px #fff,0 0 3px #fff">165 (Min)</div>
<div class="r" style="left:807.9px;top:1290.0px;width:1.5px;height:138.0px;background:#e2e2e6;"></div>
<div class="r" style="left:1274.8px;top:1290.0px;width:1.5px;height:138.0px;background:#e2e2e6;"></div>
<div class="r" style="left:1738.8px;top:1290.0px;width:1.5px;height:138.0px;background:#e2e2e6;"></div>
<div class="r" style="left:349.0px;top:1427.6px;width:1819.0px;height:2.0px;background:#dbdbdf;"></div>
<div class="r" style="left:349.0px;top:1429.6px;width:1819.0px;height:50.2px;background:#f2f3f5;"></div>
<div class="t" style="left:399.5px;top:1318.3px;font-size:21.5px;line-height:21.5px;color:#7c7d86;letter-spacing:0.3px"><b>Impact</b> <i>This</i> Month</div>
<div class="t" style="left:589.0px;top:1324.1px;font-size:14.5px;line-height:14.5px;color:#1f2030;font-weight:700;letter-spacing:0.4px;">11d left</div>
<div class="t" style="left:842.5px;top:1318.3px;font-size:21.5px;line-height:21.5px;color:#7c7d86;letter-spacing:0.3px"><b>Impact</b> <i>Last</i> Month</div>
<div class="t" style="left:1310px;top:1318.3px;font-size:21.5px;line-height:21.5px;color:#7c7d86;letter-spacing:0.3px"><b>Impact</b> <i>This</i> Quarter</div>
<div class="t" style="left:1524.4px;top:1324.1px;font-size:14.5px;line-height:14.5px;color:#1f2030;font-weight:700;letter-spacing:0.4px;">72d</div>
<div class="t" style="left:1524.4px;top:1344.7px;font-size:14.5px;line-height:14.5px;color:#1f2030;font-weight:700;letter-spacing:0.4px;">left</div>
<div class="t" style="left:1773.5px;top:1318.3px;font-size:21.5px;line-height:21.5px;color:#7c7d86;letter-spacing:0.3px"><b>Impact</b> Today</div>
<div class="t" style="left:400.0px;top:1350.6px;font-size:51.3px;line-height:51.3px;color:#4d4f62;font-weight:400;letter-spacing:-0.7px;-webkit-text-stroke:0.5px #4d4f62;">2,891</div>
<div class="t" style="left:843.0px;top:1350.6px;font-size:51.3px;line-height:51.3px;color:#4d4f62;font-weight:400;letter-spacing:1.8px;-webkit-text-stroke:0.5px #4d4f62;">2,756</div>
<div class="t" style="left:1308.0px;top:1350.6px;font-size:51.3px;line-height:51.3px;color:#4d4f62;font-weight:400;letter-spacing:1.4px;-webkit-text-stroke:0.5px #4d4f62;">10,532</div>
<div class="t" style="left:1774.0px;top:1350.6px;font-size:51.3px;line-height:51.3px;color:#4d4f62;font-weight:400;letter-spacing:3.9px;-webkit-text-stroke:0.5px #4d4f62;">307</div>
<div class="r" style="left:352.0px;top:1566.1px;width:467.0px;height:7.8px;background:#d0d2f4;"></div>
<div class="t" style="left:348.2px;top:1520.2px;font-size:50.4px;line-height:50.4px;color:#2b2c42;letter-spacing:0.95px;word-spacing:3.5px;-webkit-text-stroke:0.5px #2b2c42">Pushes are on track this month.</div>
<div class="t" style="left:350.0px;top:1584.7px;font-size:21px;line-height:21px;color:#30313f;font-weight:400;letter-spacing:0.5px;word-spacing:0.4px;">You’ve pushed 2,454 LOC so far with 6 days left this month. Normally your team pushes 3,829 LOC.</div>
<div class="t" style="left:350.0px;top:1607.9px;font-size:21px;line-height:21px;color:#30313f;font-weight:400;letter-spacing:0.5px;word-spacing:0.4px;">Today there are less pushes than normal.</div>
<svg class="r" style="left:2086px;top:1528.5px;" width="50" height="40" viewBox="0 0 50 40"><polyline points="4.3,35.8 22.5,16.6 29,22.5 46.3,4.4" fill="none" stroke="#7f84d6" stroke-width="2.4" stroke-linejoin="miter"/><polyline points="35.7,4.4 46.3,4.4 46.3,15.3" fill="none" stroke="#7f84d6" stroke-width="2.4"/></svg>
<div class="r" style="left:364.0px;top:1673.2px;width:1804.0px;height:2.0px;background:#e6e6ea;"></div>
<div class="r" style="left:415.0px;top:1715.5px;width:1698.0px;height:1.2px;background:#f6f6f8;"></div>
<div class="r" style="left:415.0px;top:1771.1px;width:1698.0px;height:1.2px;background:#f6f6f8;"></div>
<div class="r" style="left:415.0px;top:1798.8px;width:1698.0px;height:1.2px;background:#f6f6f8;"></div>
<div class="r" style="left:415.0px;top:1826.0px;width:1698.0px;height:1.2px;background:#f6f6f8;"></div>
<div class="r" style="left:364px;top:1739.6px;width:1804px;height:2px;background-image:radial-gradient(circle, #a4a4ad 0.9px, transparent 1.1px);background-size:5.3px 2px;background-repeat:repeat-x"></div>
<div class="r" style="left:397.8px;top:1785.6px;width:15.4px;height:42.4px;background:#2d2e46;"></div>
<div class="r" style="left:473.7px;top:1752.0px;width:15.4px;height:76.0px;background:#2d2e46;"></div>
<div class="r" style="left:501.7px;top:1799.3px;width:15.4px;height:28.7px;background:#2d2e46;"></div>
<div class="r" style="left:531.4px;top:1788.7px;width:15.4px;height:39.3px;background:#2d2e46;"></div>
<div class="r" style="left:559.4px;top:1816.3px;width:15.4px;height:11.7px;background:#2d2e46;"></div>
<div class="r" style="left:587.0px;top:1797.2px;width:15.4px;height:30.8px;background:#2d2e46;"></div>
<div class="r" style="left:670.7px;top:1813.1px;width:15.4px;height:14.9px;background:#2d2e46;"></div>
<div class="r" style="left:698.4px;top:1757.0px;width:15.4px;height:71.0px;background:#2d2e46;"></div>
<div class="r" style="left:726.1px;top:1740.2px;width:15.4px;height:87.8px;background:#8a8ee6;"></div>
<div class="r" style="left:754.1px;top:1762.3px;width:15.4px;height:65.7px;background:#2d2e46;"></div>
<div class="r" style="left:858.7px;top:1785.2px;width:15.4px;height:42.8px;background:#2d2e46;"></div>
<div class="r" style="left:886.4px;top:1804.3px;width:15.4px;height:23.7px;background:#2d2e46;"></div>
<div class="r" style="left:918.3px;top:1816.3px;width:15.4px;height:11.7px;background:#2d2e46;"></div>
<div class="r" style="left:946.4px;top:1772.9px;width:15.4px;height:55.1px;background:#2d2e46;"></div>
<div class="r" style="left:974.3px;top:1781.7px;width:15.4px;height:46.3px;background:#2d2e46;"></div>
<div class="r" style="left:1064.8px;top:1675.5px;width:3px;height:152.5px;background-image:linear-gradient(#1d1d2a 50%, transparent 50%);background-size:3px 8.3px;background-repeat:repeat-y"></div>
<div class="t" style="left:749.7px;top:1732.3px;font-size:16.7px;line-height:16.7px;color:#8488cf;-webkit-text-stroke:0.35px #8488cf;text-shadow:0 0 2px #fff,0 0 2px #fff,0 0 3px #fff">221 Pushes (Max)</div>
</body></html>
